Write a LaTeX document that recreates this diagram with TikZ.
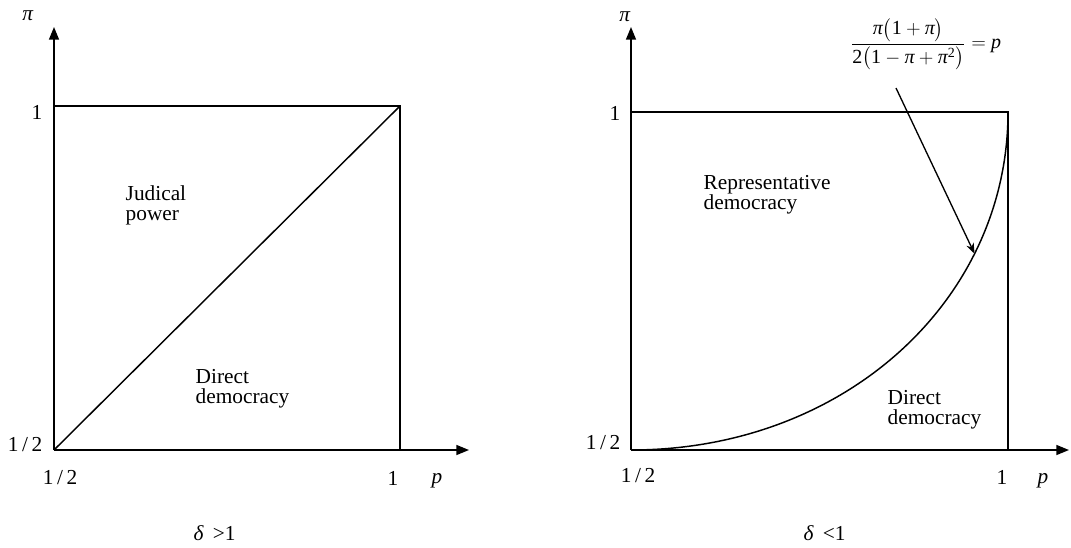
\documentclass[tikz,border=0pt]{standalone}
\usepackage{amsmath}
\usepackage{fontspec}
\setmainfont{Liberation Serif}
\usetikzlibrary{arrows.meta}
\newcommand\ip{\textit{π}}
\begin{document}
\begin{tikzpicture}[x=0.75pt,y=-0.75pt, line width=1.1pt,
  lbl/.style={font=\fontsize{16}{15}\selectfont, inner sep=0pt},
  region/.style={font=\fontsize{16}{15}\selectfont, inner sep=0pt, align=left},
  axis/.style={-{Triangle[length=9.5pt,width=7.5pt]}},
  note/.style={line width=1pt,-{Stealth[length=8pt,width=6pt]}}]
\useasboundingbox (0,0) rectangle (1071,547);
% ---------- left panel ----------
\coordinate (LO) at (54,450);
\coordinate (LY) at (54,27);
\coordinate (LX) at (469,450);
\coordinate (LTL) at (54,106);
\coordinate (LTR) at (400,106);
\coordinate (LBR) at (400,450);
\draw[axis] (LO) -- (LY);
\draw[axis] (LO) -- (LX);
\draw (LTL) -- (LTR) -- (LBR);
\draw (LO) -- (LTR);
\node[lbl] (lpi) at (28,16) {\ip};
\node[lbl] (l1y) at (37,112) {1};
\node[lbl] (lhy) at (25,445) {1\,/\,2};
\node[lbl] (lhx) at (60,478) {1\,/\,2};
\node[lbl] (l1x) at (393,478) {1};
\node[lbl] (lp) at (437,481) {\textit{p}};
\node[region, anchor=north west] (jud) at (125,185) {Judical\\power};
\node[region, anchor=north west] (ldd) at (195,369) {Direct\\democracy};
\node[lbl, anchor=west] (ld) at (193,533) {\textit{δ} \,>1};
% ---------- right panel ----------
\coordinate (RO) at (631,450);
\coordinate (RY) at (631,27);
\coordinate (RX) at (1069,450);
\coordinate (RTL) at (631,112);
\coordinate (RTR) at (1008,112);
\coordinate (RBR) at (1008,450);
\draw[axis] (RO) -- (RY);
\draw[axis] (RO) -- (RX);
\draw (RTL) -- (RTR) -- (RBR);
\draw (RO) .. controls (845,450) and (1008,300) .. (RTR) coordinate[pos=0.73] (hit);
\node[lbl] (rpi) at (625,17) {\ip};
\node[lbl] (r1y) at (615,113) {1};
\node[lbl] (rhy) at (603,443) {1\,/\,2};
\node[lbl] (rhx) at (638,476) {1\,/\,2};
\node[lbl] (r1x) at (1002,477) {1};
\node[lbl] (rp) at (1043,481) {\textit{p}};
\node[region, anchor=north west] (rep) at (703,175) {Representative\\democracy};
\node[region, anchor=north west] (rdd) at (887,390) {Direct\\democracy};
\node[lbl, anchor=west] (rd) at (803,533) {\textit{δ} \,<1};
\node[lbl, font=\fontsize{15}{15}\selectfont] (eq) at (926,44)
  {$\dfrac{\ip\bigl(\text{1}+\ip\bigr)}{\text{2}\bigl(\text{1}-\ip+\ip^{\text{2}}\bigr)}=\textit{p}$};
\coordinate (eqs) at (896,88);
\draw[note] (eqs) -- (hit);
\end{tikzpicture}
\end{document}
